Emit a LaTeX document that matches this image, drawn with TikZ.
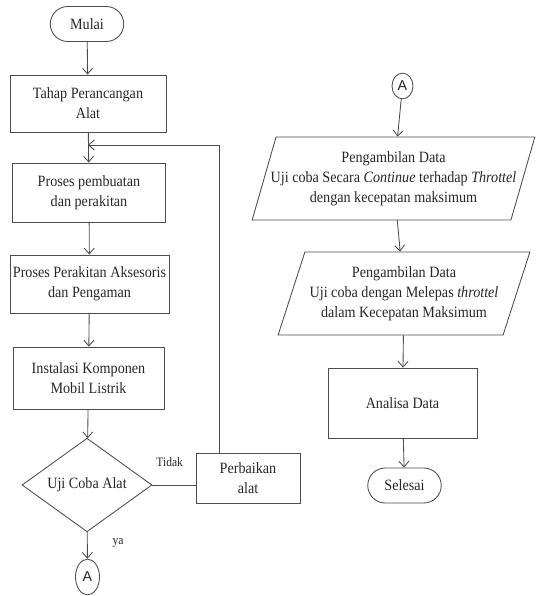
\documentclass[tikz,border=0pt]{standalone}
\usepackage{fontspec}
\setmainfont{Liberation Serif}[FakeStretch=0.9]
\setsansfont{Liberation Sans}
\usetikzlibrary{shapes.geometric,shapes.misc,arrows.meta}

\begin{document}
\begin{tikzpicture}[x=0.7pt,y=-0.7pt,
    every node/.style={font=\fontsize{11}{14}\selectfont, text=black!85},
    garis/.style={draw=black!70, line width=0.6pt},
    panah/.style={garis, -{Straight Barb[length=4pt,width=7pt]}},
    proses/.style={garis, rectangle, align=center, inner sep=2pt},
    terminal/.style={garis, rounded rectangle, minimum width=58.1pt, minimum height=24.5pt},
    keputusan/.style={garis, diamond, inner sep=0pt, minimum width=91pt, minimum height=60.2pt},
    data/.style={garis, trapezium, trapezium left angle=70, trapezium right angle=110, trapezium stretches=true, align=center, inner xsep=-6pt, minimum height=58.1pt},
    konektor/.style={garis, ellipse, inner sep=0pt, font=\sffamily\fontsize{10}{12}\selectfont},
    ket/.style={font=\fontsize{9}{10}\selectfont}]
\useasboundingbox (0,0) rectangle (538,596);
%  %% grid to find the points, comment it in the final picture
%  \draw[help lines,step=10] (0,0) grid (538,596);

% kolom kiri
\node[terminal] (mulai) at (87,24) {Mulai};
\node[proses, minimum width=109.2pt, minimum height=39.9pt] (tahap) at (88,103.5) {Tahap Perancangan\\Alat};
\node[proses, minimum width=107.1pt, minimum height=41.3pt] (buat) at (89,192.5) {Proses pembuatan\\dan perakitan};
\node[proses, minimum width=107.1pt, minimum height=40.6pt] (aksesoris) at (89.5,284) {Proses Perakitan Aksesoris\\dan Pengaman};
\node[proses, minimum width=105.7pt, minimum height=43.4pt] (instalasi) at (88.5,378) {Instalasi Komponen\\Mobil Listrik};
\node[keputusan] (uji) at (87,485) {Uji Coba Alat};
\node[proses, minimum width=72.8pt, minimum height=35pt] (perbaikan) at (248,478) {Perbaikan\\alat};
\node[konektor, minimum width=16.8pt, minimum height=25pt] (A1) at (87.5,577) {A};
\coordinate (balik) at (219,145);

% kolom kanan
\node[konektor, minimum width=14.7pt, minimum height=18pt] (A2) at (402.5,86) {A};
\node[data, minimum width=198.1pt] (data1) at (393.5,178.5) {Pengambilan Data\\Uji coba Secara \textit{Continue} terhadap \textit{Throttel}\\dengan kecepatan maksimum};
\node[data, minimum width=176.4pt] (data2) at (404,293.5) {Pengambilan Data\\Uji coba dengan Melepas \textit{throttel}\\dalam Kecepatan Maksimum};
\node[proses, minimum width=104.3pt, minimum height=49pt] (analisa) at (402.5,403) {Analisa Data};
\node[terminal] (selesai) at (404.5,485.5) {Selesai};

% alur
\draw[panah] (mulai) -- (tahap);
\draw[panah] (tahap) -- (buat);
\draw[panah] (buat) -- (aksesoris);
\draw[panah] (aksesoris) -- (instalasi);
\draw[panah] (instalasi) -- (uji);
\draw[panah] (uji) -- node[ket, pos=0.4, right=14pt]{ya} (A1);
\draw[garis] (uji.east) -- node[ket, pos=0.4, above=9pt]{Tidak} (uji.east -| perbaikan.west);
\draw[panah] (perbaikan.north -| balik) -- (balik) -- (balik -| tahap.south);

\draw[panah] (A2) -- (data1);
\draw[panah] (data1) -- (data2);
\draw[panah] (data2) -- (analisa);
\draw[panah] (analisa) -- (selesai);

\end{tikzpicture}
\end{document}
